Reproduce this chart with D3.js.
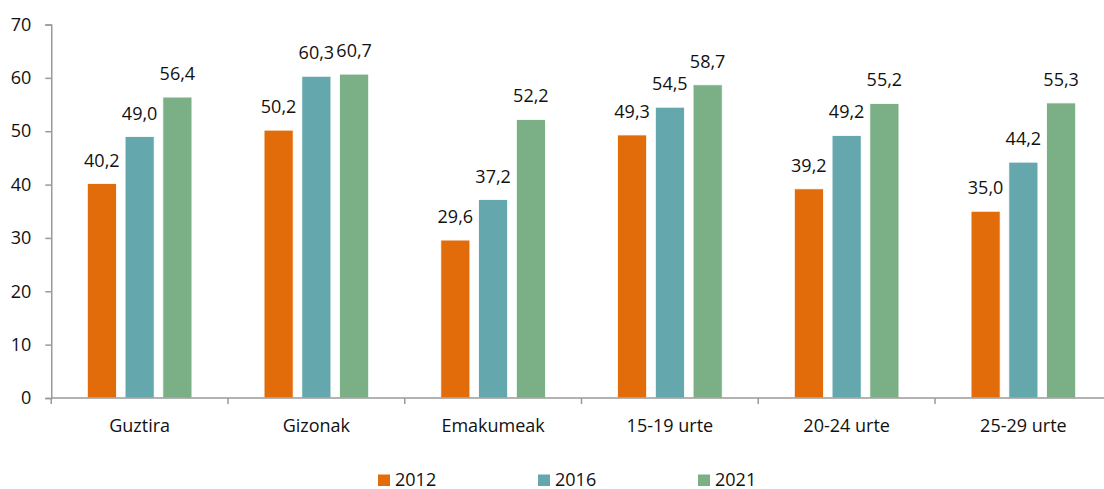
<!DOCTYPE html>
<html>
<head>
<meta charset="utf-8">
<script src="https://cdn.jsdelivr.net/npm/d3@7"></script>
<style>
  html, body { margin: 0; padding: 0; background: #fff; }
  svg { display: block; font-family: "Open Sans", "Liberation Sans", sans-serif; }
</style>
</head>
<body>
<svg id="chart" width="1104" height="489"></svg>
<script>
// Categories and series
const categories = ["Guztira", "Gizonak", "Emakumeak", "15-19 urte", "20-24 urte", "25-29 urte"];
const years = ["2012", "2016", "2021"];
const values2012 = [40.2, 50.2, 29.6, 49.3, 39.2, 35.0];
const values2016 = [49.0, 60.3, 37.2, 54.5, 49.2, 44.2];
const values2021 = [56.4, 60.7, 52.2, 58.7, 55.2, 55.3];
const yTicks = [0, 10, 20, 30, 40, 50, 60, 70];
const colors = ["#E36C0A", "#64A8AD", "#7BAF85"];

const series = [values2012, values2016, values2021];

const svg = d3.select("#chart");
const plotLeft = 51.25, plotRight = 1111.75, plotTop = 24.5, plotBottom = 398;
const fontSize = 18;

const x = d3.scaleBand().domain(categories).range([plotLeft, plotRight]).paddingInner(0).paddingOuter(0);
const xs = d3.scaleBand().domain(years).range([0, x.bandwidth()]).paddingInner(0.23).paddingOuter(0.955);
const y = d3.scaleLinear().domain([0, 70]).range([plotBottom, plotTop]);

const fmt = v => v.toFixed(1).replace(".", ",");

// Bars
const groups = svg.append("g").selectAll("g")
  .data(categories)
  .join("g")
  .attr("transform", d => `translate(${x(d)},0)`);

groups.selectAll("rect")
  .data((d, i) => years.map((yr, k) => ({ yr, k, v: series[k][i] })))
  .join("rect")
  .attr("x", d => xs(d.yr))
  .attr("width", xs.bandwidth())
  .attr("y", d => y(d.v))
  .attr("height", d => y(0) - y(d.v))
  .attr("fill", d => colors[d.k])
  .attr("stroke", "#ffffff")
  .attr("stroke-width", 0.8);

// Value labels
groups.selectAll("text")
  .data((d, i) => years.map((yr, k) => ({ yr, k, v: series[k][i] })))
  .join("text")
  .attr("x", d => xs(d.yr) + xs.bandwidth() / 2)
  .attr("y", d => y(d.v) - 17)
  .attr("text-anchor", "middle")
  .attr("font-size", fontSize)
  .attr("fill", "#111")
  .text(d => fmt(d.v));

// Y axis
const yAxis = svg.append("g")
  .attr("transform", `translate(${plotLeft},0)`)
  .call(d3.axisLeft(y).tickValues(yTicks).tickSize(6).tickPadding(14).tickFormat(d3.format("d")));
yAxis.select(".domain").attr("stroke", "#9a9a9a").attr("stroke-width", 1.5);
yAxis.selectAll(".tick line").attr("stroke", "#9a9a9a").attr("stroke-width", 1.5);
yAxis.selectAll(".tick text").attr("font-size", fontSize).attr("fill", "#111")
  .style("font-family", "'Open Sans', 'Liberation Sans', sans-serif");

// X axis with ticks on band boundaries
const xAxisG = svg.append("g");
xAxisG.append("line")
  .attr("x1", plotLeft).attr("x2", plotRight)
  .attr("y1", y(0)).attr("y2", y(0))
  .attr("stroke", "#9a9a9a").attr("stroke-width", 1.5);
xAxisG.selectAll("line.tk")
  .data(categories.concat(["__end"]))
  .join("line")
  .attr("class", "tk")
  .attr("x1", (d, i) => plotLeft + i * x.bandwidth())
  .attr("x2", (d, i) => plotLeft + i * x.bandwidth())
  .attr("y1", y(0)).attr("y2", y(0) + 6)
  .attr("stroke", "#9a9a9a").attr("stroke-width", 1.5);
xAxisG.selectAll("text")
  .data(categories)
  .join("text")
  .attr("x", d => x(d) + x.bandwidth() / 2)
  .attr("y", 432)
  .attr("text-anchor", "middle")
  .attr("font-size", fontSize)
  .attr("fill", "#111")
  .text(d => d);

// Legend
const legend = svg.append("g").selectAll("g")
  .data(years)
  .join("g")
  .attr("transform", (d, i) => `translate(${378 + i * 160},474.5)`);
legend.append("rect")
  .attr("width", 12).attr("height", 11.5)
  .attr("fill", (d, i) => colors[i]);
legend.append("text")
  .attr("x", 17).attr("y", 11)
  .attr("font-size", fontSize)
  .attr("fill", "#111")
  .text(d => d);
</script>
</body>
</html>
